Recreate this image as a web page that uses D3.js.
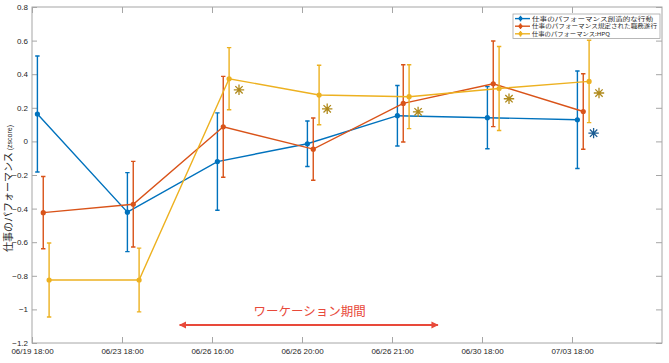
<!DOCTYPE html>
<html>
<head>
<meta charset="utf-8">
<script src="https://cdn.jsdelivr.net/npm/d3@7"></script>
<style>
  body { margin: 0; background: #fff; }
  text { font-family: "Liberation Sans", Arial, "Noto Sans CJK JP", sans-serif; }
  .jp { font-family: "Noto Sans CJK JP", sans-serif; }
</style>
</head>
<body>
<div id="chart"></div>
<script>
// tick labels on the x axis (one per session)
const sessions = ["06/19 18:00", "06/23 18:00", "06/26 16:00", "06/26 20:00", "06/26 21:00", "06/30 18:00", "07/03 18:00"];
const yTicks = [0.8, 0.6, 0.4, 0.2, 0, -0.2, -0.4, -0.6, -0.8, -1, -1.2];

const seriesNames = ["仕事のパフォーマンス創造的な行動", "仕事のパフォーマンス規定された職務遂行", "仕事のパフォーマンス:HPQ"];

// means and error half-widths (zscore)
const creative = [0.163, -0.421, -0.12, -0.014, 0.153, 0.141, 0.129];
const creativeErr = [0.345, 0.235, 0.29, 0.135, 0.18, 0.185, 0.29];
const duty = [-0.424, -0.374, 0.087, -0.046, 0.226, 0.343, 0.178];
const dutyErr = [0.215, 0.255, 0.30, 0.185, 0.23, 0.255, 0.225];
const hpq = [-0.825, -0.825, 0.373, 0.276, 0.266, 0.315, 0.357];
const hpqErr = [0.22, 0.19, 0.185, 0.177, 0.19, 0.25, 0.245];

// significance marks: [x, y, series]
const stars = [[2.3, 0.307, 2], [3.28, 0.194, 2], [4.29, 0.176, 2], [5.3, 0.254, 2], [6.3, 0.288, 2], [6.24, 0.049, 0]];

// workation period arrow
const periodLabel = "ワーケーション期間";
const periodRange = [1.64, 4.51];
const periodY = -1.093;

const margin = {top: 7, right: 7, bottom: 20, left: 32},
    width = 669 - margin.left - margin.right,
    height = 363 - margin.top - margin.bottom;

const colors = ["#0072BD", "#D95319", "#EDB120"];
const starColors = ["#1a5c93", null, "#b08a1c"];
const offsets = [0.06, 0.125, 0.19];

const svg = d3.select("#chart")
  .append("svg")
  .attr("width", 669)
  .attr("height", 363)
  .append("g")
  .attr("transform", `translate(${margin.left},${margin.top})`);

const x = d3.scaleLinear().domain([0, 7]).range([0, width]);
const y = d3.scaleLinear().domain([-1.2, 0.8]).range([height, 0]);

// frame
svg.append("rect")
  .attr("width", width).attr("height", height)
  .attr("fill", "none").attr("stroke", "#a6a6a6").attr("stroke-width", 1);

// axes with inward ticks
const axisStyle = g => {
  g.select(".domain").remove();
  g.selectAll(".tick line").attr("stroke", "#a6a6a6");
  g.selectAll(".tick text").attr("fill", "#262626").style("font-size", "8px");
};

svg.append("g")
  .attr("transform", `translate(0,${height})`)
  .call(d3.axisBottom(x).tickValues(d3.range(sessions.length))
    .tickFormat(i => sessions[i]).tickSize(-6).tickPadding(5))
  .call(axisStyle);

svg.append("g")
  .call(d3.axisTop(x).tickValues(d3.range(sessions.length))
    .tickFormat("").tickSize(-6))
  .call(axisStyle);

svg.append("g")
  .call(d3.axisLeft(y).tickValues(yTicks)
    .tickFormat(d => d === 0 ? "0" : String(d).replace("-", "\u2212"))
    .tickSize(-5).tickPadding(4))
  .call(axisStyle);

svg.append("g")
  .attr("transform", `translate(${width},0)`)
  .call(d3.axisRight(y).tickValues(yTicks).tickFormat("").tickSize(-6))
  .call(axisStyle);

// y label
const yl = svg.append("text")
  .attr("transform", `translate(${-20},${y(-0.28)}) rotate(-90)`)
  .attr("text-anchor", "middle")
  .attr("fill", "#262626");
yl.append("tspan").attr("class", "jp").style("font-size", "10px").text("仕事のパフォーマンス");
yl.append("tspan").style("font-size", "7px").text(" (zscore)");

// series
const series = [
  {values: creative, err: creativeErr},
  {values: duty, err: dutyErr},
  {values: hpq, err: hpqErr}
];

series.forEach(function(s, k) {
  const data = s.values.map((v, i) => ({x: i + offsets[k], v: v, e: s.err[i]}));
  const g = svg.append("g");

  g.selectAll(".eb").data(data).enter().append("path")
    .attr("fill", "none").attr("stroke", colors[k]).attr("stroke-width", 1.4)
    .attr("d", d => {
      const cx = x(d.x), t = y(d.v + d.e), b = y(d.v - d.e);
      return `M${cx},${t}V${b}M${cx - 2.2},${t}H${cx + 2.2}M${cx - 2.2},${b}H${cx + 2.2}`;
    });

  g.append("path")
    .datum(data)
    .attr("fill", "none")
    .attr("stroke", colors[k])
    .attr("stroke-width", 1.4)
    .attr("d", d3.line().x(d => x(d.x)).y(d => y(d.v)));

  g.selectAll("circle").data(data).enter().append("circle")
    .attr("cx", d => x(d.x)).attr("cy", d => y(d.v)).attr("r", 2.6)
    .attr("fill", colors[k]);
});

// significance asterisks (8 spokes)
const starPath = (function() {
  const r = 5.2;
  let p = "";
  [0, 45, 90, 135].forEach(a => {
    const dx = r * Math.cos(a * Math.PI / 180), dy = r * Math.sin(a * Math.PI / 180);
    p += `M${-dx},${-dy}L${dx},${dy}`;
  });
  return p;
})();
svg.selectAll(".star").data(stars).enter().append("path")
  .attr("transform", d => `translate(${x(d[0])},${y(d[1])})`)
  .attr("d", starPath)
  .attr("fill", "none")
  .attr("stroke", d => starColors[d[2]])
  .attr("stroke-width", 1.3);

// workation period
const red = "#e8493a";
svg.append("defs").append("marker")
  .attr("id", "arrowhead")
  .attr("viewBox", "0 0 10 10").attr("refX", 9).attr("refY", 5)
  .attr("markerWidth", 4).attr("markerHeight", 4).attr("orient", "auto-start-reverse")
  .append("path").attr("d", "M0,0L10,5L0,10z").attr("fill", red);

svg.append("line")
  .attr("x1", x(periodRange[0])).attr("x2", x(periodRange[1]))
  .attr("y1", y(periodY)).attr("y2", y(periodY))
  .attr("stroke", red).attr("stroke-width", 1.8)
  .attr("marker-start", "url(#arrowhead)").attr("marker-end", "url(#arrowhead)");

svg.append("text")
  .attr("class", "jp")
  .attr("x", x((periodRange[0] + periodRange[1]) / 2) + 1)
  .attr("y", y(-1.037))
  .attr("text-anchor", "middle")
  .style("font-size", "12.5px")
  .attr("fill", red)
  .text(periodLabel);

// legend
const legendWidths = [121, 125, 78];
const lg = svg.append("g").attr("transform", `translate(${513 - margin.left},${14 - margin.top})`);
lg.append("rect").attr("width", 147).attr("height", 24.5)
  .attr("fill", "#fff").attr("stroke", "#a6a6a6").attr("stroke-width", 0.8);
seriesNames.forEach(function(name, k) {
  const ry = 4.6 + k * 7.6;
  lg.append("line").attr("x1", 2).attr("x2", 17).attr("y1", ry).attr("y2", ry)
    .attr("stroke", colors[k]).attr("stroke-width", 1.4);
  lg.append("line").attr("x1", 7.5).attr("x2", 7.5).attr("y1", ry - 2.8).attr("y2", ry + 2.8)
    .attr("stroke", colors[k]).attr("stroke-width", 1.4);
  lg.append("circle").attr("cx", 7.5).attr("cy", ry).attr("r", 2).attr("fill", colors[k]);
  lg.append("text").attr("class", "jp").attr("x", 19).attr("y", ry + 2)
    .attr("textLength", legendWidths[k]).attr("lengthAdjust", "spacingAndGlyphs")
    .style("font-size", "5.2px").attr("fill", "#262626").text(name);
});
</script>
</body>
</html>
